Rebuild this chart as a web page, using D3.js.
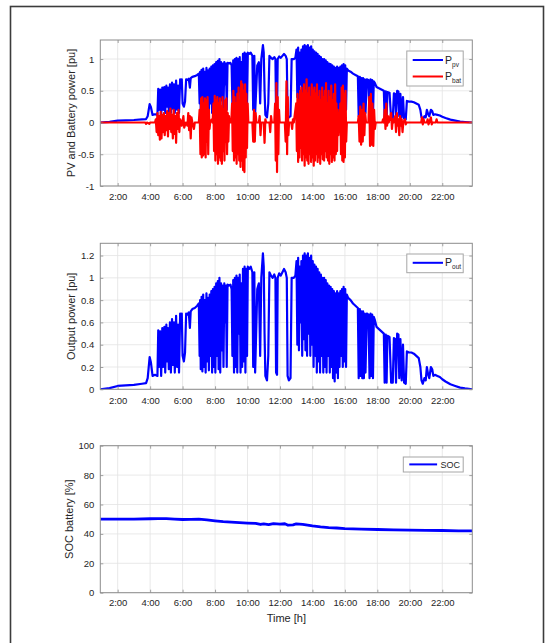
<!DOCTYPE html>
<html><head><meta charset="utf-8">
<script src="https://cdn.jsdelivr.net/npm/d3@7"></script>
<style>
body{margin:0;background:#fff;}
svg{display:block;font-family:"Liberation Sans",Arial,Helvetica,sans-serif;}
</style>
</head><body>
<svg id="c" width="545" height="643"></svg>
<script>
// ---------------- data ----------------
const hourTicks = [2,4,6,8,10,12,14,16,18,20,22];
const hourLabels = ["2:00","4:00","6:00","8:00","10:00","12:00","14:00","16:00","18:00","20:00","22:00"];
const pvTicks = [-1,-0.5,0,0.5,1];
const pvTickLabels = ["-1","-0.5","0","0.5","1"];
const outTicks = [0,0.2,0.4,0.6,0.8,1,1.2];
const outTickLabels = ["0","0.2","0.4","0.6","0.8","1","1.2"];
const socTicks = [0,20,40,60,80,100];
const socTickLabels = ["0","20","40","60","80","100"];

// PV power [pu]: [hour, value]
const pPv = [
[0.93,0.0],[1.5,0.01],[2.0,0.03],[2.5,0.035],[3.0,0.04],[3.5,0.05],[3.75,0.055],[3.85,0.1],[3.97,0.29],[4.05,0.24],[4.15,0.12],[4.3,0.13],[4.45,0.12],
[4.5,0.53],[4.55,0.2],[4.62,0.52],[4.68,0.12],[4.75,0.55],[4.8,0.2],[4.88,0.56],[4.93,0.15],[5.0,0.58],[5.05,0.25],[5.1,0.55],[5.15,0.18],[5.22,0.6],[5.28,0.15],[5.35,0.63],[5.4,0.22],[5.47,0.6],[5.52,0.15],[5.6,0.66],[5.66,0.2],[5.72,0.58],[5.78,0.15],[5.85,0.68],[5.9,0.55],[5.95,0.68],[6.0,0.3],[6.08,0.25],[6.15,0.33],[6.22,0.68],[6.3,0.67],[6.38,0.69],[6.45,0.55],[6.5,0.7],[6.6,0.72],[6.75,0.73],[6.9,0.75],[7.0,0.77],
[7.05,0.3],[7.08,0.8],[7.12,0.18],[7.17,0.83],[7.22,0.16],[7.27,0.85],[7.32,0.2],[7.37,0.8],[7.42,0.15],[7.47,0.86],[7.52,0.25],[7.57,0.82],[7.62,0.17],[7.67,0.85],[7.72,0.3],[7.77,0.88],[7.82,0.15],[7.87,0.9],[7.92,0.2],[7.97,0.92],[8.02,0.15],[8.07,0.95],[8.12,0.3],[8.17,0.97],[8.22,0.18],[8.27,1.0],[8.32,0.15],[8.37,0.95],[8.42,0.35],[8.47,0.93],[8.52,0.2],[8.57,0.95],[8.62,0.6],[8.67,0.93],[8.72,0.2],[8.77,0.94],[8.85,0.93],[8.95,0.94],
[9.02,0.9],[9.07,0.3],[9.12,0.98],[9.17,0.15],[9.22,1.0],[9.27,0.2],[9.32,1.02],[9.37,0.15],[9.42,1.0],[9.47,0.5],[9.52,1.03],[9.57,0.15],[9.62,0.95],[9.67,0.2],[9.72,1.08],[9.77,0.25],[9.82,1.1],[9.87,0.15],[9.92,1.08],[9.97,0.3],[10.02,1.1],[10.1,1.08],[10.2,1.1],[10.3,1.05],[10.35,0.2],[10.42,1.05],[10.47,0.15],[10.55,0.6],[10.6,0.9],[10.7,0.95],[10.78,0.3],[10.85,1.0],[10.95,1.22],[11.0,1.1],[11.05,0.5],[11.1,0.12],[11.2,0.08],[11.28,0.3],[11.35,1.05],[11.45,1.02],[11.55,1.0],[11.65,1.03],[11.72,1.0],[11.76,0.15],[11.82,0.13],[11.86,1.0],[11.95,1.04],[12.05,1.02],[12.15,1.05],[12.25,1.08],[12.35,1.05],[12.42,1.0],[12.47,0.12],[12.55,0.08],[12.65,0.1],[12.72,1.0],[12.85,1.0],[12.95,1.02],
[13.02,1.15],[13.07,0.4],[13.12,1.18],[13.17,0.35],[13.22,1.1],[13.27,0.6],[13.32,1.15],[13.37,0.3],[13.42,1.2],[13.47,0.45],[13.52,1.22],[13.57,0.35],[13.62,1.2],[13.67,0.3],[13.72,1.22],[13.77,0.5],[13.82,1.18],[13.87,0.3],[13.92,1.2],[13.97,0.4],[14.02,1.15],[14.07,0.2],[14.12,1.12],[14.17,0.3],[14.22,1.1],[14.27,0.15],[14.32,1.08],[14.37,0.25],[14.42,1.05],[14.47,0.15],[14.52,1.03],[14.57,0.3],[14.62,1.0],[14.67,0.15],[14.72,1.0],[14.77,0.2],[14.82,0.98],[14.87,0.15],[14.92,0.95],[14.97,0.3],[15.02,0.93],[15.07,0.15],[15.12,0.92],[15.17,0.2],[15.22,0.9],[15.27,0.1],[15.32,0.88],[15.37,0.07],[15.42,0.86],[15.47,0.15],[15.52,0.88],[15.57,0.1],[15.62,0.86],[15.67,0.2],[15.72,0.88],[15.77,0.3],[15.82,0.9],[15.87,0.2],[15.92,0.92],[15.97,0.25],[16.02,0.9],[16.07,0.2],[16.12,0.85],
[16.2,0.82],[16.35,0.8],[16.5,0.77],[16.65,0.75],[16.8,0.73],[16.85,0.1],[16.92,0.72],[16.97,0.12],[17.02,0.7],[17.07,0.1],[17.12,0.7],[17.17,0.1],[17.22,0.68],[17.27,0.15],[17.35,0.68],[17.45,0.67],[17.52,0.1],[17.58,0.68],[17.63,0.12],[17.68,0.67],[17.73,0.1],[17.78,0.65],[17.85,0.62],[17.95,0.56],[18.1,0.54],[18.25,0.52],[18.4,0.5],[18.45,0.06],[18.52,0.49],[18.57,0.06],[18.62,0.48],[18.75,0.47],[18.85,0.06],[18.95,0.06],[19.02,0.46],[19.1,0.45],[19.15,0.06],[19.22,0.5],[19.3,0.49],[19.35,0.1],[19.42,0.45],[19.5,0.08],[19.58,0.4],[19.65,0.06],[19.75,0.05],[19.82,0.34],[19.95,0.33],[20.1,0.33],[20.25,0.32],[20.4,0.3],[20.55,0.28],[20.65,0.2],[20.72,0.08],[20.8,0.05],[20.9,0.1],[20.98,0.08],[21.05,0.2],[21.12,0.14],[21.2,0.1],[21.3,0.2],[21.38,0.18],[21.45,0.12],[21.55,0.13],[21.7,0.12],[21.85,0.11],[22.0,0.09],[22.2,0.07],[22.5,0.045],[22.8,0.03],[23.1,0.015],[23.4,0.008],[23.85,0.0]
];

// Battery power [pu]: [hour, value]
const pBat = [
[0.93,0],[3.7,0],[3.75,-0.02],[3.8,0],[3.95,-0.02],[4.0,0],[4.3,0],
[4.35,0.05],[4.4,-0.15],[4.45,0.15],[4.5,-0.2],[4.55,0.1],[4.6,-0.27],[4.65,0.17],[4.7,-0.25],[4.75,0.12],[4.8,-0.15],[4.85,0.15],[4.9,-0.2],[4.95,0.1],[5.0,-0.12],[5.05,0.18],[5.1,-0.22],[5.15,0.15],[5.2,-0.1],[5.25,0.22],[5.3,-0.15],[5.35,0.12],[5.4,-0.25],[5.45,0.2],[5.5,-0.18],[5.55,0.1],[5.6,-0.32],[5.65,0.15],[5.7,-0.1],[5.75,0.2],[5.8,-0.15],[5.85,0.05],[5.9,0],[5.95,-0.05],[6.05,0.1],[6.1,-0.08],[6.2,0],[6.3,-0.05],[6.35,0.15],[6.4,-0.12],[6.45,0.1],[6.5,-0.25],[6.55,0.08],[6.6,0],[6.7,-0.1],[6.75,0],[7.0,0],
[7.05,0.2],[7.1,-0.5],[7.14,0.38],[7.18,-0.55],[7.22,0.4],[7.26,-0.52],[7.3,0.3],[7.34,-0.5],[7.38,0.38],[7.42,-0.55],[7.46,0.35],[7.5,-0.3],[7.54,0.4],[7.58,-0.5],[7.62,0.2],[7.66,-0.1],[7.7,0],[7.8,0.05],[7.85,0],
[7.9,0.3],[7.94,-0.45],[7.98,0.42],[8.02,-0.6],[8.06,0.35],[8.1,-0.5],[8.14,0.4],[8.18,-0.65],[8.22,0.3],[8.26,-0.55],[8.3,0.38],[8.34,-0.6],[8.38,0.25],[8.42,-0.65],[8.46,0.4],[8.5,-0.45],[8.54,0.2],[8.58,-0.6],[8.62,0.35],[8.66,-0.3],[8.7,0.38],[8.74,-0.5],[8.78,0.15],[8.82,-0.3],[8.86,0.1],[8.9,0],[9.0,0],
[9.05,0.3],[9.09,-0.45],[9.13,0.5],[9.17,-0.6],[9.21,0.4],[9.25,-0.55],[9.29,0.3],[9.33,-0.65],[9.37,0.45],[9.41,-0.5],[9.45,0.55],[9.49,-0.6],[9.53,0.35],[9.57,-0.7],[9.61,0.65],[9.65,-0.6],[9.69,0.6],[9.73,-0.75],[9.77,0.5],[9.81,-0.78],[9.85,0.6],[9.89,-0.55],[9.93,0.45],[9.97,-0.4],[10.01,0.3],[10.05,0],[10.15,0],
[10.3,0],[10.35,-0.3],[10.4,0.2],[10.45,-0.3],[10.5,0.15],[10.55,0],[10.7,0],[10.75,0.1],[10.8,-0.2],[10.85,0],[11.0,0],[11.05,-0.32],[11.1,0.05],[11.15,0],[11.35,0],[11.4,-0.15],[11.45,0.1],[11.5,0],
[11.65,0],[11.7,0.3],[11.74,-0.6],[11.78,0.62],[11.82,-0.78],[11.86,0.4],[11.9,-0.5],[11.94,0.2],[11.98,0],[12.3,0],[12.35,-0.3],[12.4,0.65],[12.44,-0.5],[12.48,0.4],[12.52,-0.2],[12.56,0],[12.7,0],[12.75,-0.1],[12.8,0.05],[12.85,0],
[13.0,0.3],[13.04,-0.45],[13.08,0.45],[13.12,-0.62],[13.16,0.35],[13.2,-0.55],[13.24,0.5],[13.28,-0.4],[13.32,0.55],[13.36,-0.6],[13.4,0.45],[13.44,-0.5],[13.48,0.6],[13.52,-0.68],[13.56,0.5],[13.6,-0.55],[13.64,0.68],[13.68,-0.6],[13.72,0.45],[13.76,-0.65],[13.8,0.55],[13.84,-0.5],[13.88,0.4],[13.92,-0.62],[13.96,0.6],[14.0,-0.55],[14.04,0.5],[14.08,-0.68],[14.12,0.55],[14.16,-0.6],[14.2,0.45],[14.24,-0.5],[14.28,0.6],[14.32,-0.62],[14.36,0.4],[14.4,-0.55],[14.44,0.5],[14.48,-0.65],[14.52,0.35],[14.56,-0.5],[14.6,0.55],[14.64,-0.58],[14.68,0.4],[14.72,-0.6],[14.76,0.5],[14.8,-0.45],[14.84,0.62],[14.88,-0.55],[14.92,0.3],[14.96,-0.6],[15.0,0.5],[15.04,-0.65],[15.08,0.4],[15.12,-0.5],[15.16,0.58],[15.2,-0.62],[15.24,0.35],[15.28,-0.55],[15.32,0.45],[15.36,-0.6],[15.4,0.6],[15.44,-0.5],[15.48,0.3],[15.52,-0.45],[15.56,0.2],[15.6,-0.2],[15.64,0.05],[15.68,0],[15.72,0.3],[15.76,-0.5],[15.8,0.55],[15.84,-0.6],[15.88,0.58],[15.92,-0.62],[15.96,0.45],[16.0,-0.55],[16.04,0.5],[16.08,-0.3],[16.12,0],[16.8,0],
[16.85,0.1],[16.9,-0.3],[16.95,0.25],[17.0,-0.35],[17.05,0.2],[17.1,-0.3],[17.15,0.3],[17.2,-0.2],[17.25,0.15],[17.3,0],[17.45,0],[17.5,0.4],[17.55,-0.37],[17.6,0.45],[17.65,-0.35],[17.7,0.3],[17.75,-0.37],[17.8,0.2],[17.85,-0.1],[17.9,0],[18.3,0],[18.35,0.05],[18.4,0],
[18.45,0.2],[18.5,-0.1],[18.55,0.3],[18.6,-0.05],[18.65,0.1],[18.7,0],[18.85,0.15],[18.9,-0.1],[18.95,0.05],[19.0,0],[19.1,0.1],[19.15,-0.15],[19.2,0.15],[19.25,-0.05],[19.3,0.05],[19.35,-0.2],[19.4,0.1],[19.45,-0.05],[19.5,0.05],[19.55,-0.15],[19.6,0],[19.7,0.05],[19.75,-0.03],[19.8,0],[20.7,0],[20.75,0.08],[20.8,-0.03],[20.85,0.05],[20.9,0],[21.05,0],[21.1,0.05],[21.15,-0.03],[21.2,0],[21.3,0.08],[21.35,-0.03],[21.4,0],[21.6,0],[21.65,0.05],[21.7,0],[23.85,0]
];

// Output power follows the PV trace in the reference
const pOut = pPv;

// Battery state of charge [%]: [hour, value]
const soc = [
[0.93,50.0],[2.0,50.0],[3.0,50.1],[4.0,50.3],[4.5,50.4],[5.0,50.4],[5.5,50.1],[6.0,49.8],[6.5,49.9],[7.0,50.0],[7.5,49.6],[8.0,48.9],[8.5,48.3],[9.0,48.0],[9.5,47.6],[10.0,47.3],[10.5,47.1],[10.8,46.4],[11.0,46.8],[11.3,46.3],[11.6,47.0],[12.0,46.6],[12.3,46.9],[12.5,45.9],[12.8,46.2],[13.0,46.8],[13.4,46.5],[14.0,45.5],[14.5,44.8],[15.0,44.3],[15.5,44.0],[16.0,43.6],[17.0,43.3],[18.0,43.0],[19.0,42.7],[20.0,42.5],[21.0,42.4],[22.0,42.3],[23.0,42.1],[23.85,42.0]
];

// ---------------- drawing ----------------
const svg = d3.select("#c");
const FRAME = "#3c3c3c", AXIS = "#8c8c8c", GRID = "#e3e3e3", TXT = "#262626";

svg.append("rect").attr("x",10.5).attr("y",6.5).attr("width",533).attr("height",660)
  .attr("fill","#fff").attr("stroke",FRAME).attr("stroke-width",1.6);

const L = 100.3, R = 472.3;
const x = d3.scaleLinear().domain([0.93, 23.85]).range([L, R]);

let clipId = 0;
function panel(cfg){
  const y = d3.scaleLinear().domain(cfg.domain).range([cfg.bottom, cfg.top]);
  const g = svg.append("g");
  g.append("rect").attr("x",L).attr("y",cfg.top).attr("width",R-L).attr("height",cfg.bottom-cfg.top).attr("fill","#fff");
  g.append("g").selectAll("line").data(hourTicks).join("line")
    .attr("x1",d=>x(d)).attr("x2",d=>x(d)).attr("y1",cfg.top).attr("y2",cfg.bottom)
    .attr("stroke",GRID).attr("stroke-width",0.8);
  g.append("g").selectAll("line").data(cfg.ticks).join("line")
    .attr("x1",L).attr("x2",R).attr("y1",d=>y(d)).attr("y2",d=>y(d))
    .attr("stroke",GRID).attr("stroke-width",0.8);
  const id = "clip"+(clipId++);
  svg.append("clipPath").attr("id",id).append("rect")
    .attr("x",L).attr("y",cfg.top).attr("width",R-L).attr("height",cfg.bottom-cfg.top);
  const lines = g.append("g").attr("clip-path",`url(#${id})`);
  cfg.series.forEach(s=>{
    lines.append("path").datum(s.data)
      .attr("fill","none").attr("stroke",s.color).attr("stroke-width",s.width)
      .attr("stroke-linejoin","round")
      .attr("d", d3.line().x(d=>x(d[0])).y(d=>y(d[1])));
  });
  const ax = g.append("g").attr("font-family",'"Liberation Sans",Arial,sans-serif');
  const xb = ax.append("g").attr("transform",`translate(0,${cfg.bottom})`)
    .call(d3.axisBottom(x).tickValues(hourTicks).tickSize(-3).tickPadding(cfg.xpad)
      .tickFormat((d,i)=>hourLabels[i]));
  const xt = ax.append("g").attr("transform",`translate(0,${cfg.top})`)
    .call(d3.axisTop(x).tickValues(hourTicks).tickSize(-3).tickFormat(""));
  const yl = ax.append("g").attr("transform",`translate(${L},0)`)
    .call(d3.axisLeft(y).tickValues(cfg.ticks).tickSize(-3).tickPadding(6)
      .tickFormat((d,i)=>cfg.tickLabels[i]));
  const yr = ax.append("g").attr("transform",`translate(${R},0)`)
    .call(d3.axisRight(y).tickValues(cfg.ticks).tickSize(-3).tickFormat(""));
  [xb,xt,yl,yr].forEach(a=>{
    a.select(".domain").remove();
    a.selectAll(".tick line").attr("stroke",AXIS).attr("stroke-width",0.8);
    a.selectAll("text").attr("fill",TXT).attr("font-size","9.5px");
  });
  g.append("rect").attr("x",L).attr("y",cfg.top).attr("width",R-L).attr("height",cfg.bottom-cfg.top)
    .attr("fill","none").attr("stroke",AXIS).attr("stroke-width",1);
  g.append("text").attr("transform",`translate(${cfg.ylabelX},${(cfg.top+cfg.bottom)/2}) rotate(-90)`)
    .attr("text-anchor","middle").attr("font-size","11px").attr("fill",TXT).text(cfg.ylabel);
  const lg = cfg.legend;
  g.append("rect").attr("x",lg.x).attr("y",lg.y).attr("width",lg.w).attr("height",lg.h)
    .attr("fill","#fff").attr("stroke","#a6a6a6").attr("stroke-width",1);
  lg.items.forEach(it=>{
    g.append("line").attr("x1",lg.lx1).attr("x2",lg.lx2).attr("y1",it.y).attr("y2",it.y)
      .attr("stroke",it.color).attr("stroke-width",2);
    const t = g.append("text").attr("x",lg.tx).attr("y",it.y+3.5).attr("font-size", it.sub? "10.5px":"9px").attr("fill",TXT);
    t.append("tspan").text(it.main);
    if(it.sub) t.append("tspan").attr("font-size","6.5px").attr("dy",3).text(it.sub);
  });
}

panel({top:40, bottom:186, domain:[-1,1.3], ticks:pvTicks, tickLabels:pvTickLabels,
  ylabel:"PV and Battery power [pu]", ylabelX:75, xpad:7,
  series:[{data:pPv,color:"#0000ff",width:2.2},{data:pBat,color:"#ff0000",width:2.2}],
  legend:{x:406.8,y:51,w:56.4,h:35,lx1:412.7,lx2:443,tx:445,
    items:[{y:60,color:"#0000ff",main:"P",sub:"pv"},{y:76.5,color:"#ff0000",main:"P",sub:"bat"}]}});

panel({top:243.3, bottom:389.3, domain:[0,1.31], ticks:outTicks, tickLabels:outTickLabels,
  ylabel:"Output power [pu]", ylabelX:75, xpad:7.5,
  series:[{data:pOut,color:"#0000ff",width:2.2}],
  legend:{x:406.8,y:254,w:56.4,h:18.7,lx1:412.7,lx2:443,tx:445,
    items:[{y:262.8,color:"#0000ff",main:"P",sub:"out"}]}});

panel({top:445.7, bottom:592.7, domain:[0,100], ticks:socTicks, tickLabels:socTickLabels,
  ylabel:"SOC battery [%]", ylabelX:73, xpad:6.5,
  series:[{data:soc,color:"#0000ff",width:2.8}],
  legend:{x:403.3,y:457,w:59.9,h:15,lx1:409.3,lx2:437.1,tx:440.6,
    items:[{y:464.4,color:"#0000ff",main:"SOC",sub:null}]}});

svg.append("text").attr("x",(L+R)/2).attr("y",622).attr("text-anchor","middle")
  .attr("font-size","11px").attr("fill",TXT).text("Time [h]");
</script>
</body></html>
